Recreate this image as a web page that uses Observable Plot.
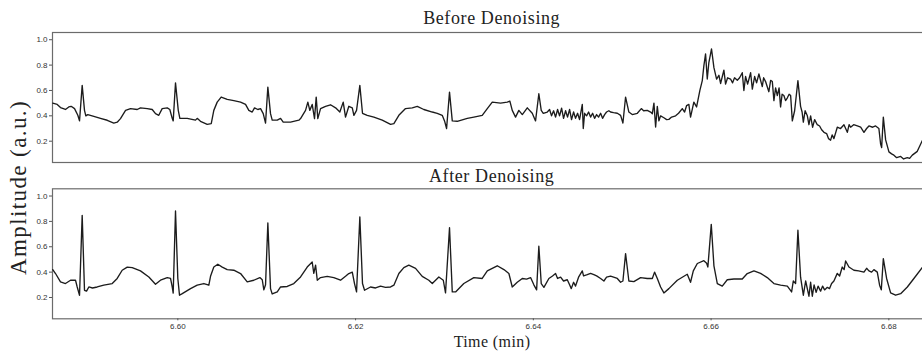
<!DOCTYPE html>
<html><head><meta charset="utf-8">
<script src="https://cdn.jsdelivr.net/npm/d3@7"></script>
<script src="https://cdn.jsdelivr.net/npm/@observablehq/plot@0.6"></script>
<style>
html,body{margin:0;padding:0;background:#fff;}
#wrap{position:relative;width:922px;height:354px;overflow:hidden;background:#fff;}
#inner{position:absolute;left:0;top:0;width:931px;height:354px;}
.panel{position:absolute;left:0;}
#labels{position:absolute;left:0;top:0;}
</style></head><body>
<div id="wrap"><div id="inner"><div id="top" class="panel" style="top:0"></div><div id="bot" class="panel" style="top:170px"></div></div><svg id="labels" width="922" height="354"></svg></div>
<script>
const beforeTime = [6.58593,6.58643,6.58680,6.58736,6.58773,6.58800,6.58838,6.58875,6.58894,6.58924,6.58950,6.58965,6.58987,6.59055,6.59130,6.59206,6.59280,6.59318,6.59355,6.59412,6.59468,6.59543,6.59580,6.59656,6.59712,6.59749,6.59786,6.59824,6.59881,6.59910,6.59937,6.59948,6.59974,6.60005,6.60023,6.60106,6.60199,6.60218,6.60255,6.60331,6.60376,6.60405,6.60443,6.60488,6.60556,6.60630,6.60706,6.60762,6.60799,6.60837,6.60863,6.60900,6.60931,6.60961,6.60987,6.61013,6.61043,6.61062,6.61119,6.61156,6.61186,6.61268,6.61362,6.61381,6.61437,6.61463,6.61485,6.61512,6.61538,6.61557,6.61575,6.61606,6.61662,6.61718,6.61775,6.61823,6.61861,6.61887,6.61924,6.61963,6.61981,6.62011,6.62048,6.62078,6.62131,6.62206,6.62300,6.62394,6.62431,6.62487,6.62562,6.62638,6.62694,6.62768,6.62863,6.62919,6.62975,6.63001,6.63024,6.63057,6.63088,6.63144,6.63257,6.63331,6.63425,6.63482,6.63538,6.63631,6.63707,6.63736,6.63763,6.63800,6.63837,6.63876,6.63932,6.63988,6.64025,6.64062,6.64089,6.64112,6.64157,6.64183,6.64205,6.64228,6.64250,6.64273,6.64295,6.64318,6.64340,6.64363,6.64385,6.64408,6.64430,6.64453,6.64475,6.64498,6.64520,6.64551,6.64562,6.64577,6.64599,6.64622,6.64644,6.64667,6.64689,6.64712,6.64734,6.64757,6.64779,6.64802,6.64824,6.64850,6.64869,6.64903,6.64945,6.64982,6.65008,6.65038,6.65075,6.65113,6.65170,6.65215,6.65241,6.65282,6.65320,6.65339,6.65357,6.65376,6.65395,6.65413,6.65432,6.65469,6.65500,6.65525,6.65556,6.65601,6.65634,6.65676,6.65702,6.65724,6.65750,6.65769,6.65806,6.65837,6.65874,6.65901,6.65919,6.65938,6.65957,6.65975,6.66005,6.66032,6.66062,6.66088,6.66107,6.66144,6.66163,6.66186,6.66219,6.66242,6.66264,6.66295,6.66321,6.66351,6.66369,6.66388,6.66411,6.66445,6.66464,6.66490,6.66512,6.66538,6.66576,6.66591,6.66613,6.66650,6.66670,6.66689,6.66707,6.66726,6.66745,6.66765,6.66782,6.66799,6.66819,6.66838,6.66857,6.66878,6.66895,6.66914,6.66940,6.66977,6.67007,6.67024,6.67038,6.67058,6.67083,6.67101,6.67120,6.67142,6.67165,6.67195,6.67221,6.67244,6.67270,6.67300,6.67322,6.67345,6.67362,6.67382,6.67420,6.67457,6.67495,6.67514,6.67533,6.67553,6.67570,6.67604,6.67646,6.67683,6.67720,6.67750,6.67776,6.67818,6.67851,6.67888,6.67907,6.67919,6.67938,6.67964,6.68001,6.68031,6.68057,6.68088,6.68133,6.68166,6.68208,6.68234,6.68264,6.68320,6.68380];
const beforeAmp = [0.50,0.49,0.465,0.45,0.47,0.475,0.457,0.404,0.36,0.64,0.443,0.40,0.41,0.396,0.38,0.365,0.343,0.35,0.378,0.443,0.457,0.45,0.463,0.457,0.45,0.417,0.404,0.457,0.463,0.45,0.38,0.36,0.66,0.443,0.38,0.38,0.366,0.38,0.357,0.333,0.338,0.443,0.508,0.548,0.53,0.52,0.508,0.49,0.443,0.43,0.463,0.45,0.457,0.417,0.343,0.626,0.417,0.366,0.366,0.38,0.35,0.35,0.366,0.378,0.443,0.508,0.443,0.49,0.378,0.548,0.378,0.457,0.475,0.487,0.463,0.43,0.508,0.39,0.475,0.463,0.404,0.443,0.64,0.42,0.404,0.39,0.366,0.333,0.338,0.404,0.457,0.463,0.475,0.45,0.43,0.42,0.404,0.36,0.30,0.587,0.36,0.357,0.38,0.39,0.404,0.457,0.508,0.50,0.508,0.516,0.443,0.39,0.443,0.41,0.463,0.42,0.36,0.574,0.443,0.42,0.43,0.45,0.40,0.44,0.39,0.45,0.40,0.46,0.38,0.44,0.39,0.45,0.37,0.43,0.38,0.42,0.37,0.49,0.30,0.42,0.40,0.43,0.39,0.42,0.38,0.41,0.39,0.42,0.38,0.41,0.43,0.44,0.43,0.425,0.42,0.404,0.343,0.548,0.43,0.41,0.42,0.457,0.44,0.443,0.43,0.417,0.50,0.312,0.475,0.36,0.40,0.385,0.37,0.372,0.39,0.40,0.42,0.457,0.43,0.48,0.49,0.39,0.508,0.47,0.60,0.678,0.796,0.888,0.69,0.82,0.927,0.78,0.69,0.72,0.655,0.76,0.65,0.70,0.69,0.66,0.70,0.68,0.70,0.74,0.60,0.71,0.65,0.74,0.61,0.71,0.66,0.73,0.63,0.70,0.67,0.59,0.68,0.67,0.52,0.62,0.56,0.62,0.47,0.57,0.56,0.52,0.54,0.57,0.56,0.36,0.44,0.678,0.475,0.43,0.35,0.44,0.40,0.33,0.40,0.31,0.37,0.33,0.32,0.29,0.27,0.26,0.22,0.208,0.25,0.22,0.31,0.30,0.33,0.30,0.27,0.33,0.31,0.33,0.32,0.31,0.27,0.30,0.32,0.31,0.32,0.30,0.18,0.15,0.39,0.21,0.116,0.10,0.09,0.07,0.08,0.06,0.07,0.065,0.09,0.12,0.21];

const afterTime = [6.58593,6.58624,6.58680,6.58736,6.58793,6.58849,6.58868,6.58894,6.58924,6.58950,6.58973,6.58999,6.59040,6.59093,6.59167,6.59262,6.59318,6.59374,6.59431,6.59487,6.59580,6.59674,6.59749,6.59805,6.59881,6.59918,6.59937,6.59948,6.59974,6.60000,6.60019,6.60050,6.60143,6.60218,6.60293,6.60349,6.60368,6.60405,6.60450,6.60500,6.60556,6.60630,6.60706,6.60781,6.60855,6.60923,6.60950,6.60968,6.60987,6.61013,6.61043,6.61062,6.61119,6.61156,6.61231,6.61305,6.61381,6.61456,6.61512,6.61530,6.61550,6.61569,6.61606,6.61681,6.61755,6.61831,6.61887,6.61924,6.61963,6.61988,6.62011,6.62048,6.62078,6.62101,6.62168,6.62225,6.62281,6.62337,6.62394,6.62431,6.62487,6.62543,6.62599,6.62675,6.62750,6.62824,6.62863,6.62937,6.62987,6.63012,6.63057,6.63088,6.63125,6.63218,6.63331,6.63425,6.63482,6.63594,6.63669,6.63725,6.63763,6.63819,6.63876,6.63924,6.63969,6.64006,6.64037,6.64062,6.64089,6.64119,6.64175,6.64216,6.64250,6.64273,6.64307,6.64340,6.64382,6.64408,6.64427,6.64453,6.64475,6.64509,6.64551,6.64565,6.64607,6.64644,6.64681,6.64712,6.64757,6.64794,6.64824,6.64869,6.64903,6.64945,6.64982,6.65008,6.65038,6.65075,6.65131,6.65207,6.65282,6.65339,6.65364,6.65395,6.65432,6.65469,6.65525,6.65620,6.65732,6.65769,6.65800,6.65845,6.65919,6.65950,6.65964,6.66002,6.66032,6.66070,6.66126,6.66182,6.66257,6.66351,6.66407,6.66482,6.66557,6.66632,6.66707,6.66782,6.66858,6.66906,6.66925,6.66951,6.66977,6.67007,6.67038,6.67064,6.67101,6.67120,6.67139,6.67159,6.67182,6.67204,6.67232,6.67255,6.67277,6.67308,6.67333,6.67356,6.67382,6.67420,6.67446,6.67476,6.67497,6.67514,6.67551,6.67607,6.67660,6.67720,6.67750,6.67776,6.67806,6.67832,6.67870,6.67896,6.67915,6.67938,6.67975,6.68020,6.68076,6.68133,6.68208,6.68282,6.68380];
const afterAmp = [0.42,0.389,0.323,0.31,0.336,0.336,0.283,0.218,0.848,0.257,0.25,0.283,0.275,0.283,0.297,0.31,0.35,0.415,0.44,0.435,0.41,0.362,0.305,0.336,0.357,0.35,0.283,0.235,0.882,0.35,0.218,0.23,0.27,0.297,0.31,0.297,0.367,0.44,0.462,0.44,0.42,0.415,0.389,0.323,0.336,0.357,0.34,0.26,0.30,0.787,0.27,0.228,0.245,0.283,0.287,0.31,0.362,0.44,0.48,0.39,0.455,0.336,0.357,0.367,0.357,0.336,0.367,0.389,0.40,0.31,0.244,0.835,0.31,0.257,0.283,0.275,0.29,0.28,0.283,0.297,0.389,0.436,0.455,0.43,0.367,0.336,0.31,0.362,0.336,0.236,0.75,0.244,0.244,0.31,0.357,0.35,0.41,0.45,0.42,0.389,0.283,0.32,0.35,0.345,0.357,0.30,0.26,0.604,0.31,0.28,0.35,0.37,0.389,0.35,0.36,0.33,0.34,0.30,0.27,0.32,0.29,0.36,0.41,0.37,0.38,0.39,0.38,0.37,0.35,0.33,0.36,0.368,0.36,0.35,0.32,0.33,0.546,0.33,0.325,0.357,0.35,0.35,0.40,0.35,0.283,0.236,0.27,0.336,0.383,0.32,0.41,0.468,0.49,0.47,0.44,0.777,0.45,0.31,0.29,0.34,0.346,0.346,0.389,0.41,0.39,0.357,0.31,0.297,0.29,0.244,0.33,0.31,0.73,0.36,0.218,0.33,0.21,0.32,0.21,0.30,0.24,0.29,0.25,0.29,0.26,0.28,0.27,0.31,0.33,0.39,0.37,0.44,0.42,0.488,0.44,0.415,0.41,0.40,0.43,0.41,0.40,0.42,0.40,0.297,0.26,0.507,0.35,0.236,0.218,0.23,0.283,0.35,0.44];

const xTicks = [6.60, 6.62, 6.64, 6.66, 6.68];
const yTicks = [0.2, 0.4, 0.6, 0.8, 1.0];
const panelTitles = ["Before Denoising", "After Denoising"];
const xLabel = "Time (min)";
const yLabel = "Amplitude (a.u.)";
const xDomain = [6.5859, 6.6848];
const yDomain = [0.032, 1.057];

function panel(time, amp, height, mt, mb, showX) {
  const data = time.map((t, i) => ({t, a: amp[i]}));
  return Plot.plot({
    width: 931, height,
    marginLeft: 52, marginRight: 0, marginTop: mt, marginBottom: mb,
    style: {fontFamily: "'Liberation Sans', Arial, sans-serif", fontSize: "8px", color: "#333", maxWidth: "none", background: "transparent", overflow: "visible"},
    x: {domain: xDomain, ...(showX ? {} : {axis: null})},
    y: {domain: yDomain},
    marks: [
      Plot.frame({stroke: "#6b6b6b", strokeWidth: 1.2}),
      Plot.axisY({ticks: yTicks, tickSize: 3, tickPadding: 2, tickFormat: d3.format(".1f"), label: null, stroke: "#555"}),
      showX ? Plot.axisX({ticks: xTicks, tickSize: 2, tickPadding: 3, tickFormat: d3.format(".2f"), label: null, stroke: "#555"}) : null,
      Plot.line(data, {x: "t", y: "a", stroke: "#1c1c1c", strokeWidth: 1.35, strokeLinejoin: "round"})
    ]
  });
}

document.getElementById("top").appendChild(panel(beforeTime, beforeAmp, 170, 32, 8, false));
document.getElementById("bot").appendChild(panel(afterTime, afterAmp, 184, 18.3, 35.7, true));

const svg = d3.select("#labels");
const serif = "'Liberation Serif', 'Times New Roman', serif";
svg.append("text").attr("x", 491.7).attr("y", 23.5).attr("text-anchor", "middle")
  .style("font-family", serif).style("font-size", "18px").style("letter-spacing", "0.6px").attr("fill", "#222").text(panelTitles[0]);
svg.append("text").attr("x", 491.7).attr("y", 181.5).attr("text-anchor", "middle")
  .style("font-family", serif).style("font-size", "18px").style("letter-spacing", "0.6px").attr("fill", "#222").text(panelTitles[1]);
svg.append("text").attr("x", 492).attr("y", 347).attr("text-anchor", "middle")
  .style("font-family", serif).style("font-size", "16px").style("letter-spacing", "0.4px").attr("fill", "#222").text(xLabel);
svg.append("text").attr("transform", "translate(25.5,187.5) rotate(-90)").attr("text-anchor", "middle")
  .style("font-family", serif).style("font-size", "23px").style("letter-spacing", "1.4px").attr("fill", "#222").text(yLabel);
</script>
</body></html>
